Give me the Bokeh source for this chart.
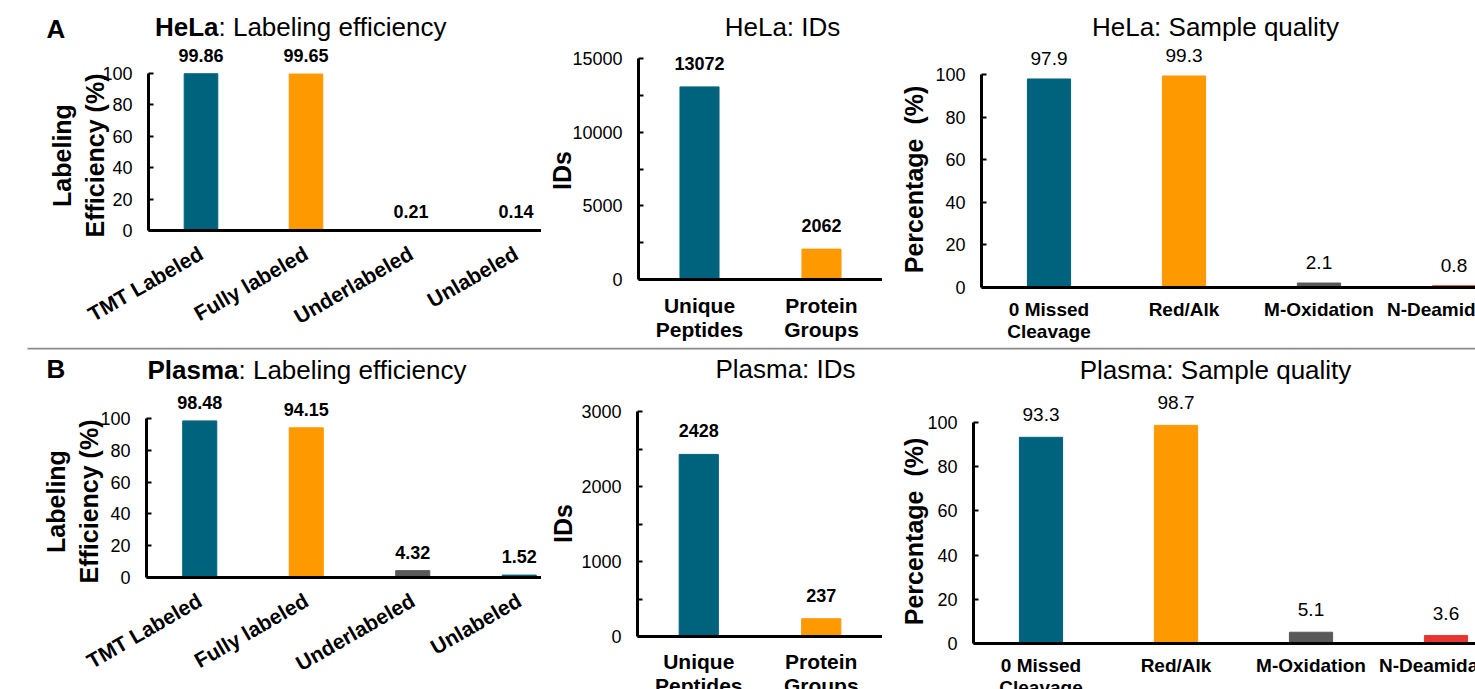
import math
from bokeh.plotting import figure
from bokeh.models import (Range1d, FixedTicker, ColumnDataSource, LabelSet, Label,
                          BoxAnnotation)
from bokeh.layouts import column, row
from bokeh.core.properties import value
from bokeh.embed import file_html
from bokeh.resources import INLINE

# ---------------- data ----------------
le_cats = ["TMT Labeled", "Fully labeled", "Underlabeled", "Unlabeled"]
hela_le_vals = [99.86, 99.65, 0.21, 0.14]
plasma_le_vals = [98.48, 94.15, 4.32, 1.52]

ids_cats = ["Unique\nPeptides", "Protein\nGroups"]
hela_ids_vals = [13072, 2062]
plasma_ids_vals = [2428, 237]

sq_cats = ["0 Missed\nCleavage", "Red/Alk", "M-Oxidation", "N-Deamidation"]
hela_sq_vals = [97.9, 99.3, 2.1, 0.8]
plasma_sq_vals = [93.3, 98.7, 5.1, 3.6]

pct_ticks = [0, 20, 40, 60, 80, 100]
hela_ids_ticks = [0, 5000, 10000, 15000]
hela_ids_minor = [2500, 7500, 12500]
plasma_ids_ticks = [0, 1000, 2000, 3000]
plasma_ids_minor = [500, 1500, 2500]

TEAL = "#00637D"
ORANGE = "#FF9900"
GRAY = "#595959"
RED = "#E8362F"
le_colors = [TEAL, ORANGE, GRAY, TEAL]
ids_colors = [TEAL, ORANGE]
sq_colors = [TEAL, ORANGE, GRAY, RED]

FONT = "Liberation Sans"
W = 1475

# ---------------- geometry (absolute pixels) ----------------
# x0: pixel column of the value axis, y0: pixel row of value 0, ppu: pixels per unit
G = {
    "A1": dict(left=0, w=541, top=43, h=304, x0=148, band=105.0, y0=230, ppu=1.57),
    "A2": dict(left=541, w=341, top=43, h=304, x0=638, band=122.0, y0=279, ppu=221 / 15000),
    "A3": dict(left=882, w=593, top=43, h=304, x0=981, band=135.0, y0=287, ppu=2.13),
    "B1": dict(left=0, w=541, top=388, h=301, x0=146, band=106.5, y0=577, ppu=1.59),
    "B2": dict(left=541, w=341, top=388, h=301, x0=637, band=122.5, y0=636, ppu=0.075),
    "B3": dict(left=882, w=593, top=388, h=301, x0=973, band=135.0, y0=643, ppu=2.21),
}


def px(g, x, y):
    return (x - g["x0"]) / g["band"], (g["y0"] - y) / g["ppu"]


def base_fig(g):
    x_start = (g["left"] - g["x0"]) / g["band"]
    x_end = (g["left"] + g["w"] - g["x0"]) / g["band"]
    y_end = (g["y0"] - g["top"]) / g["ppu"]
    y_start = -(g["top"] + g["h"] - g["y0"]) / g["ppu"]
    p = figure(width=g["w"], height=g["h"],
               x_range=Range1d(x_start, x_end), y_range=Range1d(y_start, y_end),
               min_border_left=0, min_border_right=0, min_border_top=0,
               min_border_bottom=0, output_backend="svg", toolbar_location=None,
               tools="", outline_line_color=None, background_fill_color="white",
               border_fill_color="white", x_axis_location=None)
    p.xgrid.visible = False
    p.ygrid.visible = False
    # category baseline (the x axis line), 3px thick
    h = 1.5 / g["ppu"]
    p.add_layout(BoxAnnotation(left=0, right=x_end, bottom=-h, top=h,
                               fill_color="black", fill_alpha=1.0, line_color=None))
    return p


def add_bars(p, vals, colors, fmt, size, style, yoff):
    xs = [i + 0.5 for i in range(len(vals))]
    src = ColumnDataSource(dict(x=xs, top=vals, color=colors,
                                txt=[fmt.format(v) for v in vals]))
    p.vbar(x="x", top="top", bottom=0, width=0.32, color="color", source=src)
    p.add_layout(LabelSet(x="x", y="top", text="txt", source=src, text_align="center",
                          text_baseline="bottom", y_offset=yoff,
                          text_font=value(FONT), text_font_size=size,
                          text_font_style=style, text_color="black"))


def style_y(p, g, ticks, minor, bound, label, lx, ly):
    ya = p.yaxis[0]
    ya.fixed_location = 0
    ya.ticker = FixedTicker(ticks=ticks, minor_ticks=minor)
    ya.bounds = (0, bound)
    ya.axis_line_width = 3
    ya.axis_line_color = "black"
    ya.major_tick_in = 5
    ya.major_tick_out = 0
    ya.major_tick_line_width = 2
    ya.major_tick_line_color = "black"
    ya.minor_tick_in = 5
    ya.minor_tick_out = 0
    ya.minor_tick_line_width = 2
    ya.minor_tick_line_color = "black"
    ya.major_label_standoff = 16
    ya.major_label_text_font = FONT
    ya.major_label_text_font_size = "18px"
    ya.major_label_text_color = "black"
    x, y = px(g, lx, ly)
    p.add_layout(Label(x=x, y=y, text=label, angle=math.pi / 2, text_align="center",
                       text_baseline="middle", text_font=FONT, text_font_size="25px",
                       text_font_style="bold", text_color="black",
                       text_line_height=1.15))


def cat_labels(p, cats, size, yoff, xoff=0, angle=0.0, align="center", baseline="top"):
    for i, c in enumerate(cats):
        p.add_layout(Label(x=i + 0.5, y=0, text=c, text_align=align,
                           text_baseline=baseline, x_offset=xoff, y_offset=yoff,
                           angle=angle, text_font=FONT, text_font_size=size,
                           text_font_style="bold", text_color="black",
                           text_line_height=1.05))


def strip(top, h):
    p = figure(width=W, height=h, x_range=Range1d(0, W), y_range=Range1d(top + h, top),
               min_border_left=0, min_border_right=0, min_border_top=0,
               min_border_bottom=0, x_axis_location=None, y_axis_location=None,
               output_backend="svg", toolbar_location=None, tools="",
               outline_line_color=None, background_fill_color="white",
               border_fill_color="white")
    p.xgrid.visible = False
    p.ygrid.visible = False
    return p


def txt(p, x, y, text, align, size="26px", style="normal"):
    # y is the vertical middle of the text box
    p.add_layout(Label(x=x, y=y, text=text, text_align=align,
                       text_baseline="middle", text_font=FONT,
                       text_font_size=size, text_font_style=style, text_color="black"))


# ---------------- titles strip A ----------------
sa = strip(0, 43)
txt(sa, 46, 28, "A", "left", "26px", "bold")
txt(sa, 218, 26, "HeLa", "right", "26px", "bold")
txt(sa, 218, 26, ": Labeling efficiency", "left")
txt(sa, 782, 26, "HeLa: IDs", "center")
txt(sa, 1215, 26, "HeLa: Sample quality", "center")

# ---------------- row A ----------------
g = G["A1"]
a1 = base_fig(g)
add_bars(a1, hela_le_vals, le_colors, "{:.2f}", "18px", "bold", 12)
style_y(a1, g, pct_ticks, [], 100, "Labeling\nEfficiency (%)", 78, 155)
cat_labels(a1, le_cats, "21px", -21, xoff=0, angle=math.pi / 6, align="right",
           baseline="middle")

g = G["A2"]
a2 = base_fig(g)
add_bars(a2, hela_ids_vals, ids_colors, "{:d}", "18px", "bold", 17)
style_y(a2, g, hela_ids_ticks, hela_ids_minor, 15000, "IDs", 561, 170)
cat_labels(a2, ids_cats, "21px", -14)

g = G["A3"]
a3 = base_fig(g)
add_bars(a3, hela_sq_vals, sq_colors, "{:.1f}", "19px", "normal", 14)
style_y(a3, g, pct_ticks, [], 100, "Percentage \u00a0(%)", 913, 179)
cat_labels(a3, sq_cats, "19px", -11)

# ---------------- titles strip B (with divider) ----------------
sb = strip(347, 41)
sb.add_layout(BoxAnnotation(left=27, right=W, top=347, bottom=349, fill_color="#8A8A8A",
                            fill_alpha=1.0, line_color=None))
txt(sb, 46, 368, "B", "left", "26px", "bold")
txt(sb, 238, 369, "Plasma", "right", "26px", "bold")
txt(sb, 238, 369, ": Labeling efficiency", "left")
txt(sb, 785, 368, "Plasma: IDs", "center")
txt(sb, 1215, 369, "Plasma: Sample quality", "center")

# ---------------- row B ----------------
g = G["B1"]
b1 = base_fig(g)
add_bars(b1, plasma_le_vals, le_colors, "{:.2f}", "18px", "bold", 12)
style_y(b1, g, pct_ticks, [], 100, "Labeling\nEfficiency (%)", 72, 501)
cat_labels(b1, le_cats, "21px", -21, xoff=0, angle=math.pi / 6, align="right",
           baseline="middle")

g = G["B2"]
b2 = base_fig(g)
add_bars(b2, plasma_ids_vals, ids_colors, "{:d}", "18px", "bold", 17)
style_y(b2, g, plasma_ids_ticks, plasma_ids_minor, 3000, "IDs", 562, 523)
cat_labels(b2, ids_cats, "21px", -13)

g = G["B3"]
b3 = base_fig(g)
add_bars(b3, plasma_sq_vals, sq_colors, "{:.1f}", "19px", "normal", 16)
style_y(b3, g, pct_ticks, [], 100, "Percentage \u00a0(%)", 913, 531)
cat_labels(b3, sq_cats, "19px", -11)

layout = column(sa, row(a1, a2, a3, spacing=0), sb, row(b1, b2, b3, spacing=0),
                spacing=0)

open("out.html", "w").write(file_html(layout, INLINE))
